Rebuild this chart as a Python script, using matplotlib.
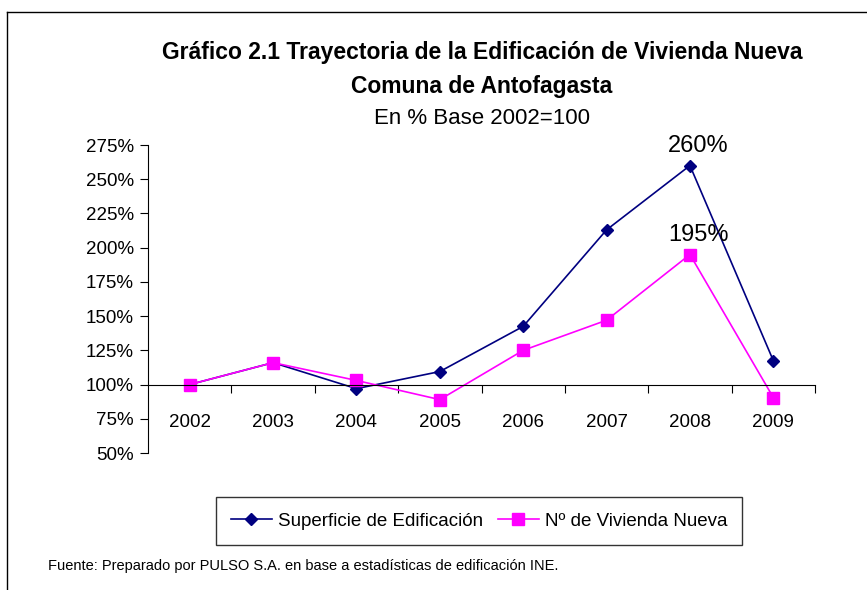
import matplotlib.pyplot as plt
from matplotlib.lines import Line2D
from matplotlib.ticker import FixedLocator, FuncFormatter

years = ["2002", "2003", "2004", "2005", "2006", "2007", "2008", "2009"]
superficie = [100, 116, 97, 109.5, 142.5, 213, 260, 117.5]
viviendas = [100, 116, 103, 89, 125, 147, 195, 90.5]
y_ticks = [50, 75, 100, 125, 150, 175, 200, 225, 250, 275]

plt.rcParams['font.family'] = ['Liberation Sans', 'DejaVu Sans']

fig = plt.figure(figsize=(8.67, 5.9), dpi=100)
ax = fig.add_axes([148 / 867, 1 - 453 / 590, (815 - 148) / 867, (453 - 145) / 590])

x = list(range(len(years)))
ax.plot(x, superficie, color='#000080', marker='D', markersize=6, linewidth=1.2,
        label='Superficie de Edificación')
ax.plot(x, viviendas, color='#FF00FF', marker='s', markersize=8, linewidth=1.2,
        label='Nº de Vivienda Nueva')

ax.annotate(f"{superficie[6]:.0f}%", (6, superficie[6]), xytext=(6, 6), textcoords='offset points',
            ha='center', va='bottom', fontsize=17)
ax.annotate(f"{viviendas[6]:.0f}%", (6, viviendas[6]), xytext=(6, 6), textcoords='offset points',
            ha='center', va='bottom', fontsize=17)

ax.set_xlim(-0.5, len(years) - 0.5)
ax.set_ylim(50, 275)
ax.set_yticks(y_ticks)
ax.yaxis.set_major_formatter(FuncFormatter(lambda v, p: f"{v:.0f}%"))
ax.tick_params(axis='y', direction='out', length=6, labelsize=13.5, pad=4)

ax.spines['top'].set_visible(False)
ax.spines['right'].set_visible(False)
ax.spines['bottom'].set_position(('data', 100))

ax.xaxis.set_major_locator(FixedLocator([i + 0.5 for i in x]))
ax.xaxis.set_major_formatter(FuncFormatter(lambda v, p: ""))
ax.xaxis.set_minor_locator(FixedLocator(x))
ax.set_xticklabels(years, minor=True)
ax.tick_params(axis='x', which='major', direction='out', length=6)
ax.tick_params(axis='x', which='minor', length=0, labelsize=13.5, pad=21)

fig.text(482 / 867, 1 - 53 / 590, "Gráfico 2.1 Trayectoria de la Edificación de Vivienda Nueva",
         ha='center', va='center', fontsize=16.5, fontweight='bold')
fig.text(482 / 867, 1 - 87 / 590, "Comuna de Antofagasta",
         ha='center', va='center', fontsize=16.5, fontweight='bold')
fig.text(482 / 867, 1 - 118 / 590, "En % Base 2002=100",
         ha='center', va='center', fontsize=16)

leg = fig.legend(loc='center', bbox_to_anchor=(479 / 867, 1 - 521 / 590), ncol=2,
                 fontsize=13.5, frameon=True, fancybox=False, edgecolor='black',
                 handlelength=2.2, handletextpad=0.3, columnspacing=0.8, borderpad=0.8)
leg.get_frame().set_linewidth(1.0)

fig.text(48 / 867, 1 - 566 / 590, "Fuente: Preparado por PULSO S.A. en base a estadísticas de edificación INE.",
         ha='left', va='center', fontsize=10.5)

fig.add_artist(Line2D([7 / 867, 1], [1 - 12 / 590, 1 - 12 / 590], color='black', linewidth=1))
fig.add_artist(Line2D([7 / 867, 7 / 867], [0, 1 - 12 / 590], color='black', linewidth=1))

fig.savefig('out.png', dpi=100)
